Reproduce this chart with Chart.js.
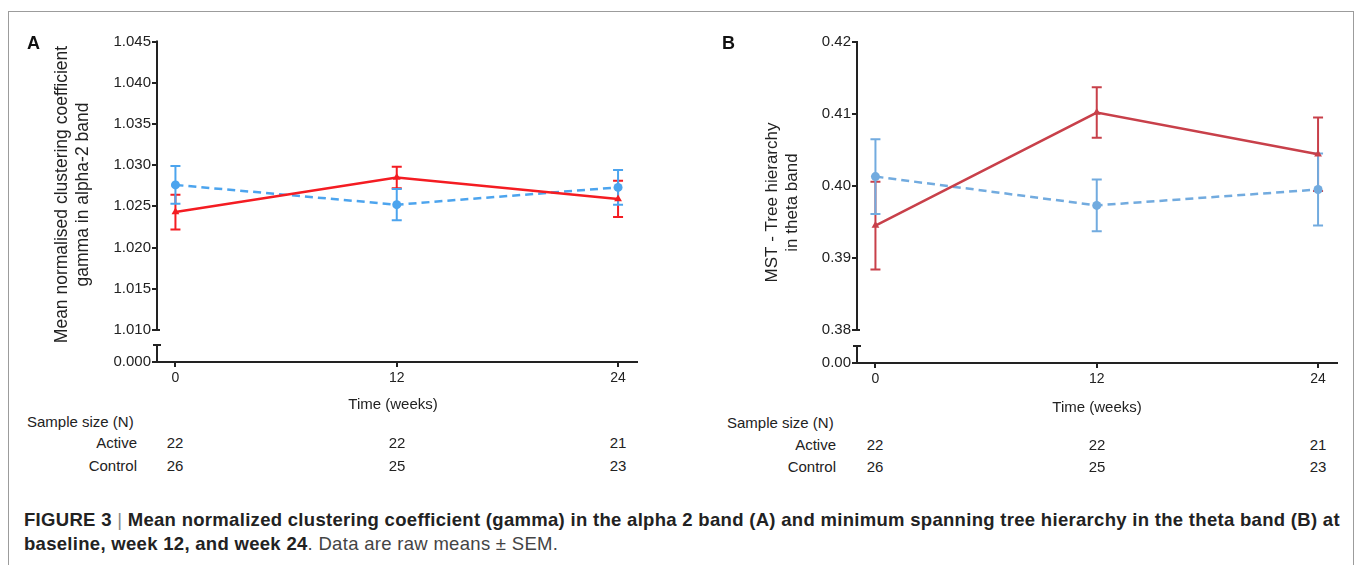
<!DOCTYPE html>
<html>
<head>
<meta charset="utf-8">
<script src="https://cdn.jsdelivr.net/npm/chart.js@4.4.1/dist/chart.umd.min.js"></script>
<style>
  body { margin: 0; width: 1355px; height: 565px; background: #fff; position: relative; overflow: hidden;
         font-family: "Liberation Sans", Arial, sans-serif; color: #222; }
  .frame { position: absolute; left: 8px; top: 11px; width: 1344px; height: 600px;
           border: 1px solid #9c9c9c; border-bottom: none; }
  canvas { position: absolute; top: 0; }
  .t { position: absolute; font-size: 15px; line-height: 18px; white-space: nowrap; }
  .c { transform: translateX(-50%); }
  .r { text-align: right; width: 120px; }
  .letter { position: absolute; font-size: 18px; font-weight: bold; line-height: 20px; color: #111; }
  .caption { position: absolute; left: 24px; top: 508px; font-size: 18.5px; letter-spacing: 0.3px;
             line-height: 24px; color: #222; white-space: nowrap; }
  .caption b { font-weight: bold; }
  .caption .n { color: #444; }
</style>
</head>
<body>
<div class="frame"></div>
<canvas id="chartA" width="680" height="400" style="left:0"></canvas>
<canvas id="chartB" width="675" height="400" style="left:680px"></canvas>
<div class="letter" style="left:27px;top:33px">A</div>
<div class="letter" style="left:722px;top:33px">B</div>
<div id="tables"></div>
<div class="caption">
  <b>FIGURE 3</b> <span style="color:#888">|</span> <b>Mean normalized clustering coefficient (gamma) in the alpha 2 band (A) and minimum spanning tree hierarchy in the theta band (B) at</b><br>
  <b>baseline, week 12, and week 24</b><span class="n">. Data are raw means ± SEM.</span>
</div>
<script>
// ---- data ----
const weeks = [0, 12, 24];

// panel A: clustering coefficient (gamma), alpha-2 band
const aActive = [1.0243, 1.0285, 1.0259];
const aActiveSem = [0.0021, 0.0013, 0.0022];
const aControl = [1.0276, 1.0252, 1.0273];
const aControlSem = [0.0023, 0.0019, 0.0021];
const aTicks = [1.010, 1.015, 1.020, 1.025, 1.030, 1.035, 1.040, 1.045];

// panel B: MST tree hierarchy, theta band
const bActive = [0.3945, 0.4102, 0.4044];
const bActiveSem = [0.0061, 0.0035, 0.0051];
const bControl = [0.4013, 0.3973, 0.3995];
const bControlSem = [0.0052, 0.0036, 0.0050];
const bTicks = [0.38, 0.39, 0.40, 0.41, 0.42];

// sample sizes
const nActive = [22, 22, 21];
const nControl = [26, 25, 23];

Chart.defaults.font.family = '"Liberation Sans", Arial, sans-serif';
Chart.defaults.color = '#222';

// error bars (mean +- SEM)
const errorBars = {
  id: 'errorBars',
  beforeDatasetsDraw(chart) {
    const { ctx, scales: { x, y } } = chart;
    chart.data.datasets.forEach((ds) => {
      ctx.save();
      ctx.strokeStyle = ds.borderColor;
      ctx.lineWidth = 2;
      ds.data.forEach((p, i) => {
        const px = x.getPixelForValue(p.x);
        const top = y.getPixelForValue(p.y + ds.sem[i]);
        const bot = y.getPixelForValue(p.y - ds.sem[i]);
        ctx.beginPath();
        ctx.moveTo(px, top); ctx.lineTo(px, bot);
        ctx.moveTo(px - 5, top); ctx.lineTo(px + 5, top);
        ctx.moveTo(px - 5, bot); ctx.lineTo(px + 5, bot);
        ctx.stroke();
      });
      ctx.restore();
    });
  }
};

// y axis with a break between the lowest tick and the zero label
const brokenAxis = {
  id: 'brokenAxis',
  afterDraw(chart, args, o) {
    const { ctx, chartArea, scales: { y } } = chart;
    const xl = chartArea.left;
    const yBreak = y.getPixelForValue(o.breakAt);
    const yBot = chartArea.bottom;
    ctx.save();
    ctx.strokeStyle = '#222';
    ctx.lineWidth = 2;
    ctx.beginPath();
    ctx.moveTo(xl, chartArea.top - 1); ctx.lineTo(xl, yBreak);
    ctx.moveTo(xl, yBreak); ctx.lineTo(xl + 3, yBreak);
    ctx.moveTo(xl, yBot - 17); ctx.lineTo(xl, yBot);
    ctx.moveTo(xl - 4, yBot - 17); ctx.lineTo(xl + 4, yBot - 17);
    ctx.stroke();
    ctx.restore();
  }
};

function series(vals, sem, color, dash, style) {
  return {
    data: weeks.map((w, i) => ({ x: w, y: vals[i] })),
    sem: sem,
    borderColor: color,
    backgroundColor: color,
    borderWidth: 2.5,
    borderDash: dash,
    pointStyle: style,
    pointRadius: 4.5,
    pointBorderWidth: 0,
    tension: 0
  };
}

function makePanel(id, p) {
  new Chart(document.getElementById(id), {
    type: 'line',
    data: {
      datasets: [
        series(p.active, p.activeSem, p.red, [], 'triangle'),
        series(p.control, p.controlSem, p.blue, [8, 5], 'circle')
      ]
    },
    plugins: [errorBars, brokenAxis],
    options: {
      responsive: false,
      animation: false,
      devicePixelRatio: 1,
      layout: { padding: { top: p.top, right: p.right, left: 0, bottom: 0 } },
      plugins: {
        legend: { display: false },
        tooltip: { enabled: false },
        brokenAxis: { breakAt: p.ticks[0] }
      },
      scales: {
        x: {
          type: 'linear', min: -1, max: 25,
          afterBuildTicks: (s) => { s.ticks = weeks.map((v) => ({ value: v })); },
          afterFit: (s) => { s.height = p.xH; },
          ticks: { font: { size: 14 }, color: '#222', padding: 3 },
          grid: { drawOnChartArea: false, tickLength: 5, color: '#222', lineWidth: 2 },
          border: { display: true, color: '#222', width: 2 }
        },
        y: {
          min: p.min, max: p.ticks[p.ticks.length - 1],
          afterBuildTicks: (s) => { s.ticks = [p.min, ...p.ticks].map((v) => ({ value: v })); },
          afterFit: (s) => { s.width = p.yW; },
          ticks: {
            font: { size: 15 }, color: '#222', padding: 1,
            callback: (v) => (v === p.min ? p.zero : v.toFixed(p.dec))
          },
          grid: { drawOnChartArea: false, tickLength: 5, color: '#222', lineWidth: 2 },
          border: { display: false },
          title: {
            display: true, text: p.title, color: '#222',
            font: { size: p.titleSize, lineHeight: p.titleLH },
            padding: { top: p.titlePad, bottom: 0 }
          }
        }
      }
    }
  });
}

makePanel('chartA', {
  active: aActive, activeSem: aActiveSem, control: aControl, controlSem: aControlSem,
  red: '#f41c22', blue: '#4ca4ee',
  ticks: aTicks, min: 1.0061, zero: '0.000', dec: 3,
  top: 41.6, right: 43.5, xH: 38, yW: 157,
  title: ['   Mean normalised clustering coefficient', '   gamma in alpha-2 band'],
  titleSize: 17.5, titleLH: 1.2, titlePad: 51.5
});

makePanel('chartB', {
  active: bActive, activeSem: bActiveSem, control: bControl, controlSem: bControlSem,
  red: '#c8404a', blue: '#72abdf',
  ticks: bTicks, min: 0.3754, zero: '0.00', dec: 2,
  top: 42, right: 18.5, xH: 37, yW: 177,
  title: ['MST - Tree hierarchy', 'in theta band'],
  titleSize: 17, titleLH: 1.18, titlePad: 82.5
});

// sample size tables and x axis titles
const tables = document.getElementById('tables');
function addText(txt, cls, left, top) {
  const d = document.createElement('div');
  d.className = 't ' + cls;
  d.textContent = txt;
  d.style.left = left + 'px';
  d.style.top = top + 'px';
  tables.appendChild(d);
}
[
  { xs: [175, 397, 618], timeX: 393, timeY: 395, sample: 27, labR: 137, rows: [413, 434, 457] },
  { xs: [875, 1097, 1318], timeX: 1097, timeY: 398, sample: 727, labR: 836, rows: [414, 436, 458] }
].forEach((t) => {
  addText('Time (weeks)', 'c', t.timeX, t.timeY);
  addText('Sample size (N)', '', t.sample, t.rows[0]);
  addText('Active', 'r', t.labR - 120, t.rows[1]);
  addText('Control', 'r', t.labR - 120, t.rows[2]);
  t.xs.forEach((x, i) => {
    addText(String(nActive[i]), 'c', x, t.rows[1]);
    addText(String(nControl[i]), 'c', x, t.rows[2]);
  });
});
</script>
</body>
</html>
